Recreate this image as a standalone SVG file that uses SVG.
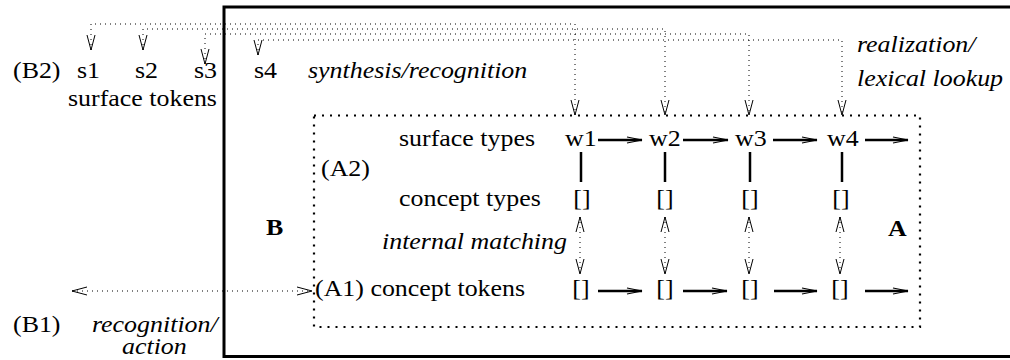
<svg xmlns="http://www.w3.org/2000/svg" width="1010" height="360" viewBox="0 0 1010 360" font-family="'Liberation Serif', 'Times New Roman', 'DejaVu Serif', serif">
<defs>
<style>
text{font-family:'Liberation Serif','Times New Roman','DejaVu Serif',serif;font-size:24px;fill:#000}
.it{font-style:italic}
.bd{font-weight:bold}
.mid{text-anchor:middle}
.dot{fill:none;stroke:#000;stroke-width:1;stroke-dasharray:1 4}
.sol{fill:none;stroke:#000;stroke-width:2.5}
.box{fill:none;stroke:#000;stroke-width:2.2;stroke-dasharray:2 6}
.frame{fill:none;stroke:#000;stroke-width:3}
</style>
<marker id="ah" markerUnits="userSpaceOnUse" markerWidth="16" markerHeight="10" refX="15" refY="4" orient="auto-start-reverse" overflow="visible">
<path d="M0,0 L15,4 L0,8" fill="none" stroke="#000" stroke-width="1"/>
</marker>
<marker id="sh" markerUnits="userSpaceOnUse" markerWidth="16" markerHeight="8" refX="15" refY="3" orient="auto" overflow="visible">
<path d="M0,0 L15,3 L0,6" fill="none" stroke="#000" stroke-width="1.2"/>
</marker>
</defs>

<g id="frameB">
<rect class="frame" x="224" y="7" width="800" height="349.5"/>
<text class="bd" font-family="Liberation Serif, serif" transform="translate(266,235) scale(1.08,1)">B</text>
</g>

<g id="boxA">
<rect class="box" x="314" y="115.5" width="606" height="211.5"/>
<text class="bd" font-family="Liberation Serif, serif" transform="translate(888,236) scale(1.08,1)">A</text>
</g>

<g id="surfaceTokens" font-family="Liberation Serif, serif">
<text font-family="Liberation Serif, serif" transform="translate(13,78) scale(1.08,1)">(B2)</text>
<text font-family="Liberation Serif, serif" transform="translate(77,78) scale(1.08,1)">s1</text>
<text font-family="Liberation Serif, serif" transform="translate(135,78) scale(1.08,1)">s2</text>
<text font-family="Liberation Serif, serif" transform="translate(194,78) scale(1.08,1)">s3</text>
<text font-family="Liberation Serif, serif" transform="translate(254,78) scale(1.08,1)">s4</text>
<text font-family="Liberation Serif, serif" transform="translate(68,106) scale(1.08,1)">surface tokens</text>
</g>

<g id="labels">
<text class="it" font-family="Liberation Serif, serif" transform="translate(308,78) scale(1.08,1)">synthesis/recognition</text>
<text class="it" font-family="Liberation Serif, serif" transform="translate(857,52) scale(1.08,1)">realization/</text>
<text class="it" font-family="Liberation Serif, serif" transform="translate(857,86) scale(1.08,1)">lexical lookup</text>
<text class="it" font-family="Liberation Serif, serif" transform="translate(382,249) scale(1.08,1)">internal matching</text>
<text font-family="Liberation Serif, serif" transform="translate(13,332) scale(1.08,1)">(B1)</text>
<text class="it" font-family="Liberation Serif, serif" transform="translate(92,332) scale(1.08,1)">recognition/</text>
<text class="it" font-family="Liberation Serif, serif" transform="translate(122,354) scale(1.08,1)">action</text>
</g>

<g id="surfaceTypes">
<text font-family="Liberation Serif, serif" transform="translate(399,146) scale(1.08,1)">surface types</text>
<text font-family="Liberation Serif, serif" transform="translate(565,146) scale(1.08,1)">w1</text>
<text font-family="Liberation Serif, serif" transform="translate(649,146) scale(1.08,1)">w2</text>
<text font-family="Liberation Serif, serif" transform="translate(735,146) scale(1.08,1)">w3</text>
<text font-family="Liberation Serif, serif" transform="translate(827,146) scale(1.08,1)">w4</text>
<text font-family="Liberation Serif, serif" transform="translate(321,176) scale(1.08,1)">(A2)</text>
</g>

<g id="conceptTypes">
<text font-family="Liberation Serif, serif" transform="translate(399,206) scale(1.08,1)">concept types</text>
<text class="mid" font-family="Liberation Serif, serif" transform="translate(582,206) scale(1.08,1)">[]</text>
<text class="mid" font-family="Liberation Serif, serif" transform="translate(665,206) scale(1.08,1)">[]</text>
<text class="mid" font-family="Liberation Serif, serif" transform="translate(750,206) scale(1.08,1)">[]</text>
<text class="mid" font-family="Liberation Serif, serif" transform="translate(841,206) scale(1.08,1)">[]</text>
</g>

<g id="conceptTokens">
<text font-family="Liberation Serif, serif" transform="translate(315,296) scale(1.08,1)">(A1) concept tokens</text>
<text class="mid" font-family="Liberation Serif, serif" transform="translate(581,296) scale(1.08,1)">[]</text>
<text class="mid" font-family="Liberation Serif, serif" transform="translate(665,296) scale(1.08,1)">[]</text>
<text class="mid" font-family="Liberation Serif, serif" transform="translate(750,296) scale(1.08,1)">[]</text>
<text class="mid" font-family="Liberation Serif, serif" transform="translate(840,296) scale(1.08,1)">[]</text>
</g>

<g id="connectors">
<polyline class="dot" points="91,50 91,24 575,24 575,115" marker-start="url(#ah)" marker-end="url(#ah)"/>
<polyline class="dot" points="143,50 143,29 665,29 665,115" marker-start="url(#ah)" marker-end="url(#ah)"/>
<polyline class="dot" points="205,64 205,34 749,34 749,115" marker-start="url(#ah)" marker-end="url(#ah)"/>
<polyline class="dot" points="258,55 258,40 842,40 842,115" marker-start="url(#ah)" marker-end="url(#ah)"/>

<line class="sol" x1="598" y1="140" x2="642" y2="140" marker-end="url(#sh)"/>
<line class="sol" x1="683" y1="140" x2="728" y2="140" marker-end="url(#sh)"/>
<line class="sol" x1="773" y1="140" x2="817" y2="140" marker-end="url(#sh)"/>
<line class="sol" x1="865" y1="140" x2="908" y2="140" marker-end="url(#sh)"/>

<line class="sol" x1="581" y1="152" x2="581" y2="182"/>
<line class="sol" x1="665" y1="152" x2="665" y2="182"/>
<line class="sol" x1="750" y1="152" x2="750" y2="182"/>
<line class="sol" x1="842" y1="152" x2="842" y2="182"/>

<line class="dot" x1="580" y1="217" x2="580" y2="274" marker-start="url(#ah)" marker-end="url(#ah)"/>
<line class="dot" x1="665" y1="217" x2="665" y2="274" marker-start="url(#ah)" marker-end="url(#ah)"/>
<line class="dot" x1="749" y1="217" x2="749" y2="274" marker-start="url(#ah)" marker-end="url(#ah)"/>
<line class="dot" x1="840" y1="217" x2="840" y2="274" marker-start="url(#ah)" marker-end="url(#ah)"/>

<line class="sol" x1="598" y1="291" x2="642" y2="291" marker-end="url(#sh)"/>
<line class="sol" x1="683" y1="291" x2="727" y2="291" marker-end="url(#sh)"/>
<line class="sol" x1="774" y1="291" x2="817" y2="291" marker-end="url(#sh)"/>
<line class="sol" x1="865" y1="291" x2="908" y2="291" marker-end="url(#sh)"/>

<line class="dot" x1="72" y1="291" x2="312" y2="291" marker-start="url(#ah)" marker-end="url(#ah)"/>
</g>
</svg>
